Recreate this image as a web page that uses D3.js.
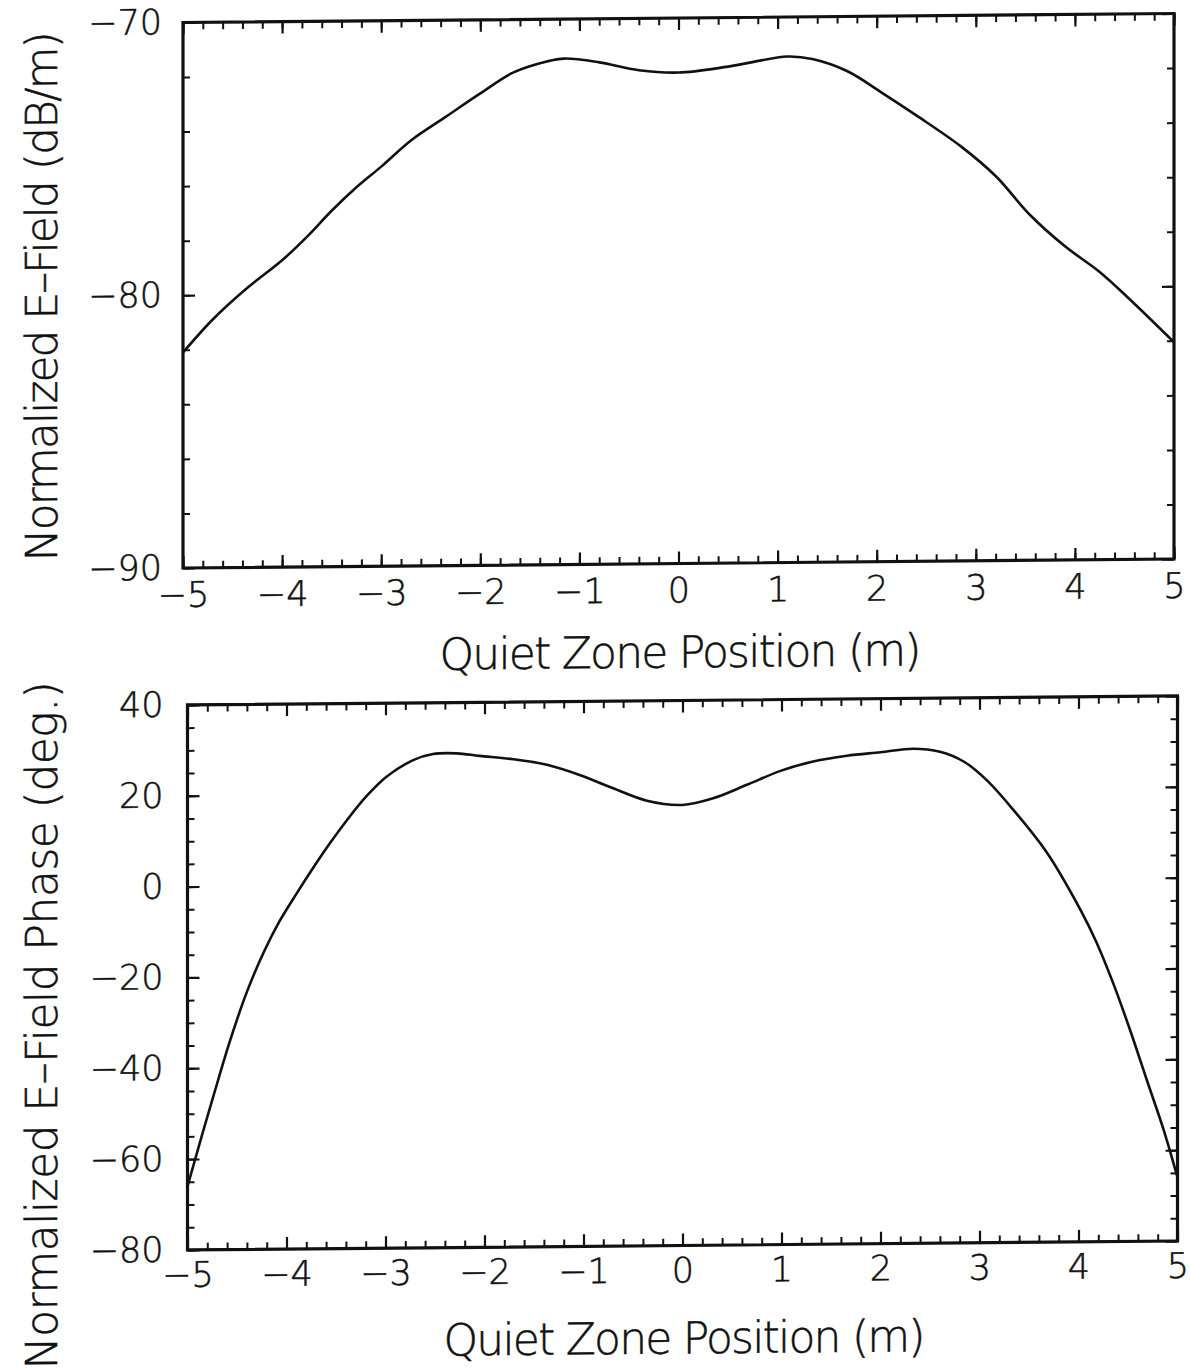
<!DOCTYPE html>
<html>
<head>
<meta charset="utf-8">
<script src="https://cdn.jsdelivr.net/npm/d3@7"></script>
<style>
  body { margin: 0; background: #fff; }
  svg text { font-family: "DejaVu Sans", sans-serif; font-weight: 200; fill: #111; stroke: #111; stroke-width: 0.5; }
</style>
</head>
<body>
<div id="chart"></div>
<script>
// values
const xTicks = [-5, -4, -3, -2, -1, 0, 1, 2, 3, 4, 5];
const ampTicks = [-90, -80, -70];
const phaseTicks = [-80, -60, -40, -20, 0, 20, 40];

const ampX = [-5.0, -4.7, -4.35, -4.0, -3.75, -3.5, -3.25, -3.0, -2.7, -2.35, -2.0, -1.67, -1.33, -1.15,
  -0.8, -0.4, 0.0, 0.5, 1.1, 1.35, 1.7, 2.05, 2.4, 2.85, 3.2, 3.55, 3.9, 4.25, 4.55, 5.0];
const ampDb = [-82.1, -80.9, -79.75, -78.75, -77.9, -76.95, -76.1, -75.35, -74.4, -73.55, -72.7, -71.95, -71.55, -71.45,
  -71.6, -71.9, -72.0, -71.8, -71.45, -71.55, -72.0, -72.8, -73.65, -74.8, -75.9, -77.35, -78.5, -79.45, -80.45, -82.05];

const phaseX = [-5.0, -4.87, -4.74, -4.57, -4.4, -4.23, -4.07, -3.9, -3.73, -3.56, -3.39, -3.19, -2.99, -2.72,
  -2.52, -2.28, -2.05, -1.71, -1.37, -1.04, -0.7, -0.36, 0.0, 0.31, 0.65, 0.99, 1.32, 1.66, 2.0, 2.33,
  2.6, 2.84, 3.07, 3.34, 3.68, 4.02, 4.18, 4.35, 4.52, 4.69, 4.86, 5.0];
const phaseDeg = [-66, -56.0, -46.3, -34.0, -23.3, -14.6, -7.8, -1.8, 3.9, 9.3, 14.3, 19.6, 23.8, 27.4,
  28.7, 28.8, 28.2, 27.4, 26.1, 23.8, 20.8, 18.0, 17.0, 18.4, 21.3, 24.3, 26.3, 27.5, 28.2, 28.9,
  28.2, 26.0, 21.9, 15.3, 5.8, -6.9, -14.0, -23.1, -33.4, -44.5, -55.5, -66];

const width = 1190, height = 1370;
const svg = d3.select("#chart").append("svg")
  .attr("width", width).attr("height", height)
  .attr("viewBox", [0, 0, width, height]);

// the scan is a little skewed: right side sits ~9px higher than the left
const root = svg.append("g")
  .attr("transform", "translate(183,0) skewY(-0.52) translate(-183,0)");

function panel({ box, yDomain, yMajor, yMinorStep, xs, ys, yTitle, yTitleLen, yTitleMid, xTitleY, yPad, xPad }) {
  const g = root.append("g");
  const x = d3.scaleLinear().domain([-5, 5]).range([box.left, box.right]);
  const y = d3.scaleLinear().domain(yDomain).range([box.bottom, box.top]);
  const xMinor = d3.range(-5, 5.0001, 0.2).map(v => +v.toFixed(1));
  const yMinor = d3.range(yDomain[0], yDomain[1] + 0.001, yMinorStep);
  const fmt = d3.format("d");

  const axes = [
    [d3.axisBottom(x), `translate(0,${box.bottom})`, xMinor, xTicks, true],
    [d3.axisTop(x), `translate(0,${box.top})`, xMinor, xTicks, false],
    [d3.axisLeft(y), `translate(${box.left},0)`, yMinor, yMajor, true],
    [d3.axisRight(y), `translate(${box.right},0)`, yMinor, yMajor, false]
  ];
  axes.forEach(([axis, tr, minor, major, labels], i) => {
    g.append("g").attr("transform", tr)
      .call(axis.tickValues(minor).tickSize(-7).tickFormat(""))
      .call(a => a.select(".domain").remove())
      .call(a => a.selectAll("line").attr("stroke", "#111").attr("stroke-width", 2));
    const pad = i < 2 ? xPad : yPad;
    g.append("g").attr("transform", tr)
      .call(axis.tickValues(major).tickSize(-12).tickPadding(pad).tickFormat(labels ? fmt : ""))
      .call(a => a.select(".domain").remove())
      .call(a => a.selectAll("line").attr("stroke", "#111").attr("stroke-width", 2.2))
      .call(a => a.selectAll("text").attr("font-size", 35).attr("font-family", null));
  });

  g.append("rect")
    .attr("x", box.left).attr("y", box.top)
    .attr("width", box.right - box.left).attr("height", box.bottom - box.top)
    .attr("fill", "none").attr("stroke", "#111").attr("stroke-width", 3.2);

  const line = d3.line()
    .x((d, i) => x(xs[i]))
    .y(d => y(d))
    .curve(d3.curveCatmullRom.alpha(0.5));
  g.append("path")
    .attr("d", line(ys))
    .attr("fill", "none").attr("stroke", "#111").attr("stroke-width", 2.6);

  g.append("text")
    .attr("x", (box.left + box.right) / 2 + 2)
    .attr("y", xTitleY)
    .attr("text-anchor", "middle")
    .attr("font-size", 44)
    .attr("textLength", 482).attr("lengthAdjust", "spacing")
    .text("Quiet Zone Position (m)");

  g.append("text")
    .attr("transform", `translate(57,${yTitleMid}) rotate(-90)`)
    .attr("text-anchor", "middle")
    .attr("font-size", 44)
    .attr("textLength", yTitleLen).attr("lengthAdjust", "spacing")
    .text(yTitle);
}

panel({
  box: { left: 183, right: 1174, top: 22.5, bottom: 568 },
  yDomain: [-90, -70], yMajor: ampTicks, yMinorStep: 2,
  xs: ampX, ys: ampDb,
  yTitle: "Normalized E\u2013Field (dB/m)", yTitleLen: 530, yTitleMid: 295,
  xTitleY: 672, yPad: 21, xPad: 14
});

panel({
  box: { left: 187.5, right: 1177.5, top: 705, bottom: 1250 },
  yDomain: [-80, 40], yMajor: phaseTicks, yMinorStep: 5,
  xs: phaseX, ys: phaseDeg,
  yTitle: "Normalized E\u2013Field Phase (deg.)", yTitleLen: 688, yTitleMid: 1024,
  xTitleY: 1358, yPad: 24, xPad: 12
});
</script>
</body>
</html>
